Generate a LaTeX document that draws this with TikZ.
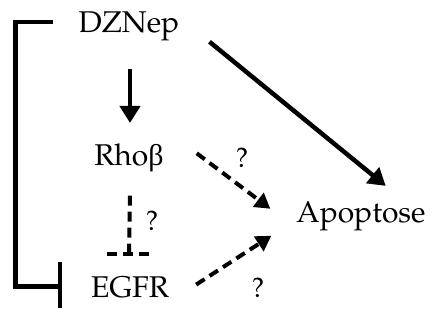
\documentclass[tikz,border=0pt]{standalone}
\usepackage{fontspec}
\usetikzlibrary{arrows.meta,calc}
\newfontfamily\grk{Liberation Serif}
\newcommand\palfont{\fontencoding{OT1}\fontfamily{ppl}\selectfont}
\begin{document}
\begin{tikzpicture}[x=1pt,y=-1pt,
  lbl/.style={inner sep=0pt,anchor=base,font=\palfont\fontsize{30}{36}\selectfont},
  qm/.style={inner sep=0pt,anchor=base,font=\palfont\fontsize{28}{32}\selectfont},
  solidarr/.style={line width=4.5pt,-{Triangle[width=20pt,length=17pt]}},
  dasharr/.style={line width=4pt,dash pattern=on 10pt off 6pt,-{Triangle[width=17pt,length=15pt]}},
  inhib/.style={line width=4.5pt},
  dinhib/.style={line width=4pt,dash pattern=on 10pt off 6pt}]
\useasboundingbox (0,0) rectangle (432,322);
\node[lbl] (dz) at (129,32) {DZNep};
\node[lbl] (rho) at (129,165) {Rho{\grk β}};
\node[lbl] (eg) at (130,297) {EGFR};
\node[lbl] (ap) at (361,222) {Apoptose};
\node[qm] (q1) at (242,167) {?};
\node[qm] (q2) at (152,230) {?};
\node[qm] (q3) at (258,297) {?};
% DZNep -> Rho
\draw[solidarr] ($(dz.south)+(1,28)$) -- ($(rho.north)+(1,-20)$);
% DZNep -> Apoptose
\draw[solidarr] ($(dz.east)+(30,16)$) -- ($(ap.north east)+(-40,-15)$);
% Rho -> Apoptose
\draw[dasharr] ($(rho.east)+(33,-4)$) -- ($(ap.west)+(-26,-7)$);
% EGFR -> Apoptose
\draw[dasharr] ($(eg.east)+(27,-2)$) -- ($(ap.west)+(-25,20)$);
% Rho -| EGFR (dashed inhibition)
\coordinate (tb) at ($(eg.north)+(0,-22)$);
\draw[dinhib] ($(rho.south)+(1,24)$) -- (tb -| rho.south);
\draw[dinhib] ($(tb)+(-23,0)$) -- ($(tb)+(23,0)$);
% DZNep -| EGFR bracket
\coordinate (ib) at ($(eg.west)+(-31,0)$);
\draw[inhib] ($(dz.west)+(-26,-4)$) -- ++(-37,0) |- ($(ib)+(0,0)$);
\draw[inhib] ($(ib)+(0,-25)$) -- ($(ib)+(0,21)$);
\end{tikzpicture}
\end{document}
